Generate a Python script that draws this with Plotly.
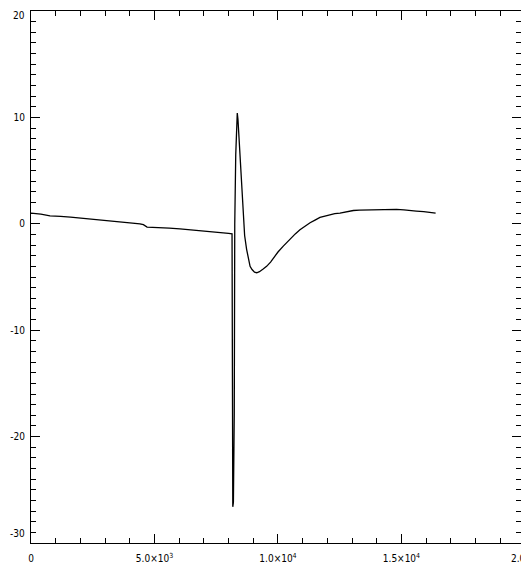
import plotly.graph_objects as go

# Data (sample index vs. signal)
sample_x = [0, 200, 400, 770, 1000, 1200, 1600, 1980, 2250, 2500, 2800, 3100, 3470, 3800,
            4000, 4410, 4550, 4700, 5000, 5200, 5600, 6030, 6300, 6600, 7110, 7400, 7600,
            8000, 8140, 8170, 8195, 8230, 8250, 8290, 8320, 8352, 8380, 8420, 8462, 8500,
            8530, 8570, 8600, 8650, 8730, 8800, 8870, 8950, 9050, 9140, 9250, 9400, 9540,
            9700, 9850, 10000, 10215, 10400, 10550, 10700, 10890, 11100, 11300, 11500,
            11700, 11900, 12100, 12300, 12510, 12800, 13050, 13300, 13600, 13900, 14260,
            14500, 14800, 15100, 15340, 15600, 15900, 16150, 16383]
signal_y = [1.0, 0.97, 0.9, 0.75, 0.74, 0.7, 0.62, 0.53, 0.44, 0.42, 0.35, 0.28, 0.16,
            0.12, 0.08, 0.0, -0.08, -0.31, -0.33, -0.35, -0.4, -0.47, -0.52, -0.6, -0.72,
            -0.76, -0.8, -0.9, -0.95, -26.6, -26.2, -17.9, 0.0, 6.5, 9.5, 10.4, 9.8, 8.2,
            6.3, 4.6, 3.2, 1.4, 0.06, -1.1, -2.4, -3.3, -4.0, -4.3, -4.55, -4.6, -4.5,
            -4.25, -4.0, -3.6, -3.1, -2.65, -2.1, -1.65, -1.3, -0.95, -0.56, -0.2, 0.1,
            0.35, 0.6, 0.72, 0.85, 0.95, 1.0, 1.12, 1.25, 1.28, 1.3, 1.36, 1.38, 1.4, 1.35,
            1.3, 1.22, 1.2, 1.15, 1.08, 1.0]

x_tickvals = [0, 5000, 10000, 15000]
x_ticktext = ["0", "5.0×10<sup>3</sup>", "1.0×10<sup>4</sup>", "1.5×10<sup>4</sup>"]
y_tickvals = [-20, -10, 0, 10]
y_ticktext = ["-20", "-10", "0", "10"]

FONT = "Liberation Sans Narrow, DejaVu Sans Condensed, Arial Narrow, Liberation Sans, sans-serif"

fig = go.Figure()
fig.add_trace(go.Scatter(x=sample_x, y=signal_y, mode="lines",
                         line=dict(color="black", width=1.3), showlegend=False,
                         hoverinfo="skip"))

axis_common = dict(
    showgrid=False, zeroline=False, showline=True, linecolor="black", linewidth=1,
    mirror="ticks", ticks="inside", ticklen=9, tickwidth=1, tickcolor="black",
    tickfont=dict(family=FONT, size=10, color="black"),
)

fig.update_xaxes(range=[0, 19840], tickmode="array", tickvals=x_tickvals,
                 ticktext=x_ticktext, ticklabelstandoff=6,
                 minor=dict(ticks="inside", ticklen=5, dtick=1000, tick0=0,
                            tickcolor="black", tickwidth=1, showgrid=False),
                 **axis_common)
fig.update_yaxes(range=[-30, 20], tickmode="array", tickvals=y_tickvals,
                 ticktext=y_ticktext, ticklabelstandoff=3,
                 minor=dict(ticks="inside", ticklen=5, dtick=1, tick0=0,
                            tickcolor="black", tickwidth=1, showgrid=False),
                 **axis_common)

# End labels (IDL-style, nudged inside the axis span) and the clipped right label
fig.add_annotation(x=0, xref="paper", y=20, yref="y", text="20", showarrow=False,
                   xanchor="right", yanchor="middle", xshift=-4, yshift=-4,
                   font=dict(family=FONT, size=10, color="black"))
fig.add_annotation(x=0, xref="paper", y=-30, yref="y", text="-30", showarrow=False,
                   xanchor="right", yanchor="middle", xshift=-4, yshift=10,
                   font=dict(family=FONT, size=10, color="black"))
fig.add_annotation(x=1.0, xref="paper", y=0, yref="paper", text="2.0×10<sup>4</sup>",
                   showarrow=False, xanchor="left", yanchor="top", xshift=-12, yshift=-7,
                   font=dict(family=FONT, size=10, color="black"))

fig.update_layout(width=521, height=564, paper_bgcolor="white", plot_bgcolor="white",
                  margin=dict(l=31, r=0, t=11, b=21))

fig.write_html("out.html")
